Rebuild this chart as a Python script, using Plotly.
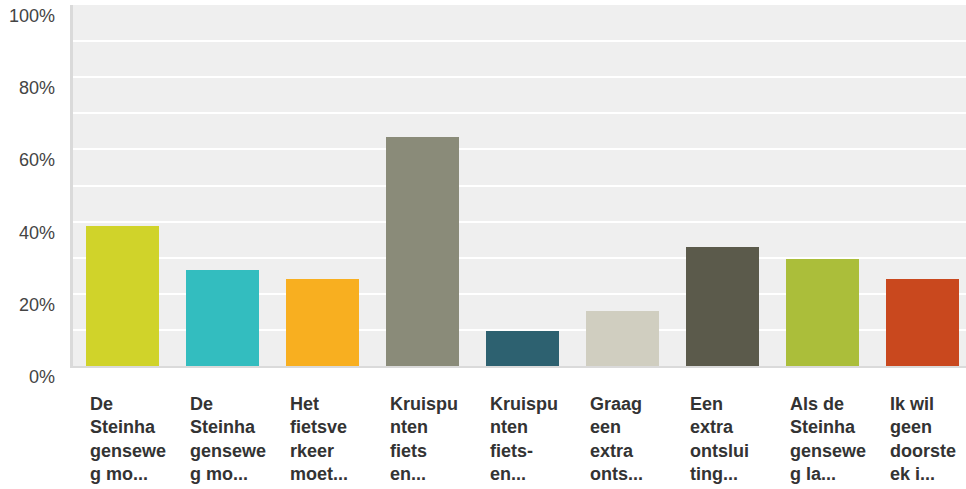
import plotly.graph_objects as go

categories = [
    "De<br>Steinha<br>gensewe<br>g mo...",
    "De<br>Steinha<br>gensewe<br>g mo...",
    "Het<br>fietsve<br>rkeer<br>moet...",
    "Kruispu<br>nten<br>fiets<br>en...",
    "Kruispu<br>nten<br>fiets-<br>en...",
    "Graag<br>een<br>extra<br>onts...",
    "Een<br>extra<br>ontslui<br>ting...",
    "Als de<br>Steinha<br>gensewe<br>g la...",
    "Ik wil<br>geen<br>doorste<br>ek i...",
]
values = [38.9, 26.5, 24.0, 63.5, 9.7, 15.2, 33.1, 29.6, 24.0]
colors = ["#D0D32A", "#33BDBF", "#F8AF20", "#8A8B79", "#2D6170",
          "#D0CEC0", "#5B5A4B", "#ABBE3A", "#C9481E"]
ytick_vals = [0, 20, 40, 60, 80, 100]
ytick_text = ["0%", "20%", "40%", "60%", "80%", "100%"]

x = list(range(len(values)))
bar_w = 0.73

fig = go.Figure()
fig.add_trace(go.Bar(x=x, y=values, marker=dict(color=colors, line=dict(width=0)),
                     width=bar_w, hoverinfo="skip"))

annotations = []
for v, t in zip(ytick_vals, ytick_text):
    annotations.append(dict(x=0, xref="paper", y=v, yref="y", text=t, showarrow=False,
                            xanchor="right", yanchor="middle", xshift=-16, yshift=-11,
                            font=dict(family="Liberation Sans, Arial", size=18, color="#444444")))
for i, c in enumerate(categories):
    annotations.append(dict(x=i - bar_w / 2, xref="x", y=0, yref="paper", text="<b>" + c + "</b>",
                            showarrow=False, xanchor="left", yanchor="top", align="left",
                            xshift=2, yshift=-26,
                            font=dict(family="Liberation Sans, Arial", size=18, color="#333333")))

fig.update_layout(
    width=966, height=489,
    margin=dict(l=73, r=0, t=5, b=122.5),
    paper_bgcolor="white", plot_bgcolor="#EFEFEF",
    showlegend=False, bargap=0,
    xaxis=dict(range=[-0.5, 8.435], showticklabels=False, showgrid=False, zeroline=False,
               showline=True, linecolor="#DADADA", linewidth=2, ticks=""),
    yaxis=dict(range=[0, 100], dtick=10, showticklabels=False, showgrid=True,
               gridcolor="#FFFFFF", gridwidth=2, zeroline=False,
               showline=True, linecolor="#DADADA", linewidth=3, ticks=""),
    annotations=annotations,
)
fig.write_html("out.html", config={"displayModeBar": False},
               post_script="document.body.style.margin='0';document.body.style.overflow='hidden';")
